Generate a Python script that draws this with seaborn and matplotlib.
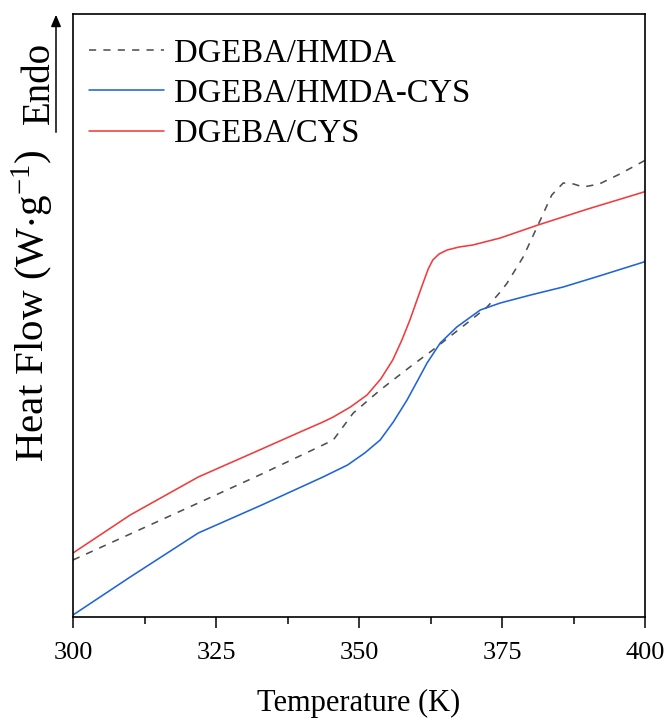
import matplotlib
matplotlib.use("Agg")
import matplotlib.pyplot as plt
import seaborn as sns
import numpy as np

# ---- data (arbitrary heat-flow units) ----
t_hmda = [300, 310, 321.9, 333, 343.7, 345.5, 349, 353.7, 358.9, 362.9, 368.9,
          372.4, 374.7, 375.9, 378.7, 381.3, 383.7, 385.7, 387.5, 389.2, 392, 395.6, 399.8, 400]
hf_hmda = [57, 83, 114, 143, 172, 177, 204, 227, 250, 267, 294,
           310, 325, 334, 360, 392, 422, 434, 433, 430, 433, 443, 456, 457]

t_hmda_cys = [300, 310, 321.9, 333, 343.7, 348, 351, 353.7, 356, 358.4, 360.3, 361.9,
              364.2, 367.1, 371.2, 374.7, 380, 385.7, 392, 399.8, 400]
hf_hmda_cys = [2, 40, 84, 112, 140, 152, 164, 177, 195, 217, 237, 254,
               274, 290, 307, 314, 322, 330, 341, 355, 356]

t_cys = [300, 310, 321.9, 333, 339.7, 343.7, 345.5, 348.5, 351.4, 353.8, 355.9, 357.5,
         358.9, 360.2, 361.2, 362.1, 362.9, 364, 365.4, 367.5, 369.9, 374.7, 381.3, 390, 399.8, 400]
hf_cys = [64, 102, 140, 168, 185, 195, 200, 210, 222, 238, 257, 277,
          297, 318, 334, 348, 357, 363, 367, 370, 372, 379, 392, 408, 425, 426]

labels = ["DGEBA/HMDA", "DGEBA/HMDA-CYS", "DGEBA/CYS"]
x_ticks = [300, 325, 350, 375, 400]

sns.set_theme(style="white")
plt.rcParams["font.family"] = ["Liberation Serif", "DejaVu Serif"]
plt.rcParams["mathtext.fontset"] = "custom"
plt.rcParams["mathtext.rm"] = "Liberation Serif"
plt.rcParams["mathtext.it"] = "Liberation Serif:italic"
plt.rcParams["mathtext.default"] = "regular"
plt.rcParams["text.color"] = "black"
plt.rcParams["xtick.color"] = "black"

fig = plt.figure(figsize=(6.71, 7.22), dpi=100)
ax = fig.add_axes([73/671, 1-617/722, (645-73)/671, (617-14)/722])

lw = 1.15
sns.lineplot(x=t_hmda, y=hf_hmda, ax=ax, color="#505050", lw=lw, sort=False,
             label=labels[0]).lines[-1].set_dashes((4.5, 4.5))
sns.lineplot(x=t_hmda_cys, y=hf_hmda_cys, ax=ax, color="#1f64d8", lw=lw, sort=False,
             label=labels[1])
sns.lineplot(x=t_cys, y=hf_cys, ax=ax, color="#f23b3b", lw=lw, sort=False,
             label=labels[2])

ax.set_xlim(300, 400)
ax.set_ylim(0, 603)
ax.set_xticks(x_ticks)
ax.set_xticks([312.5, 337.5, 362.5, 387.5], minor=True)
ax.set_yticks([])
ax.tick_params(axis="x", which="major", direction="out", length=8, width=1.1,
               labelsize=19, pad=10, bottom=True, color="black", labelcolor="black")
ax.tick_params(axis="x", which="minor", direction="out", length=5, width=1.1,
               bottom=True, color="black")
for s in ax.spines.values():
    s.set_color("black")
    s.set_linewidth(1.2)

ax.set_xlabel("Temperature (K)", fontsize=22, labelpad=18, color="black")
ax.set_ylabel("")

fig.text(33/671, 1-306/722, r"Heat Flow (W$\cdot$g$^{-1}$)", rotation=90,
         ha="center", va="center", fontsize=29.5, color="black")

# Endo arrow
fig.add_artist(matplotlib.patches.FancyArrowPatch(
    (56/671, 1-135/722), (56/671, 1-12/722), transform=fig.transFigure,
    arrowstyle="-|>,head_length=7,head_width=3", color="black", lw=1.1,
    mutation_scale=1))
fig.text(39/671, 1-83/722, "Endo", rotation=90, ha="center", va="center",
         fontsize=28, color="black")

leg = ax.legend(loc="upper left", frameon=False, fontsize=23.5, handlelength=2.3,
                handletextpad=0.3, labelspacing=0.3, borderaxespad=0,
                bbox_to_anchor=(3/572, 1-11/603))

fig.savefig("out.png", dpi=100)
